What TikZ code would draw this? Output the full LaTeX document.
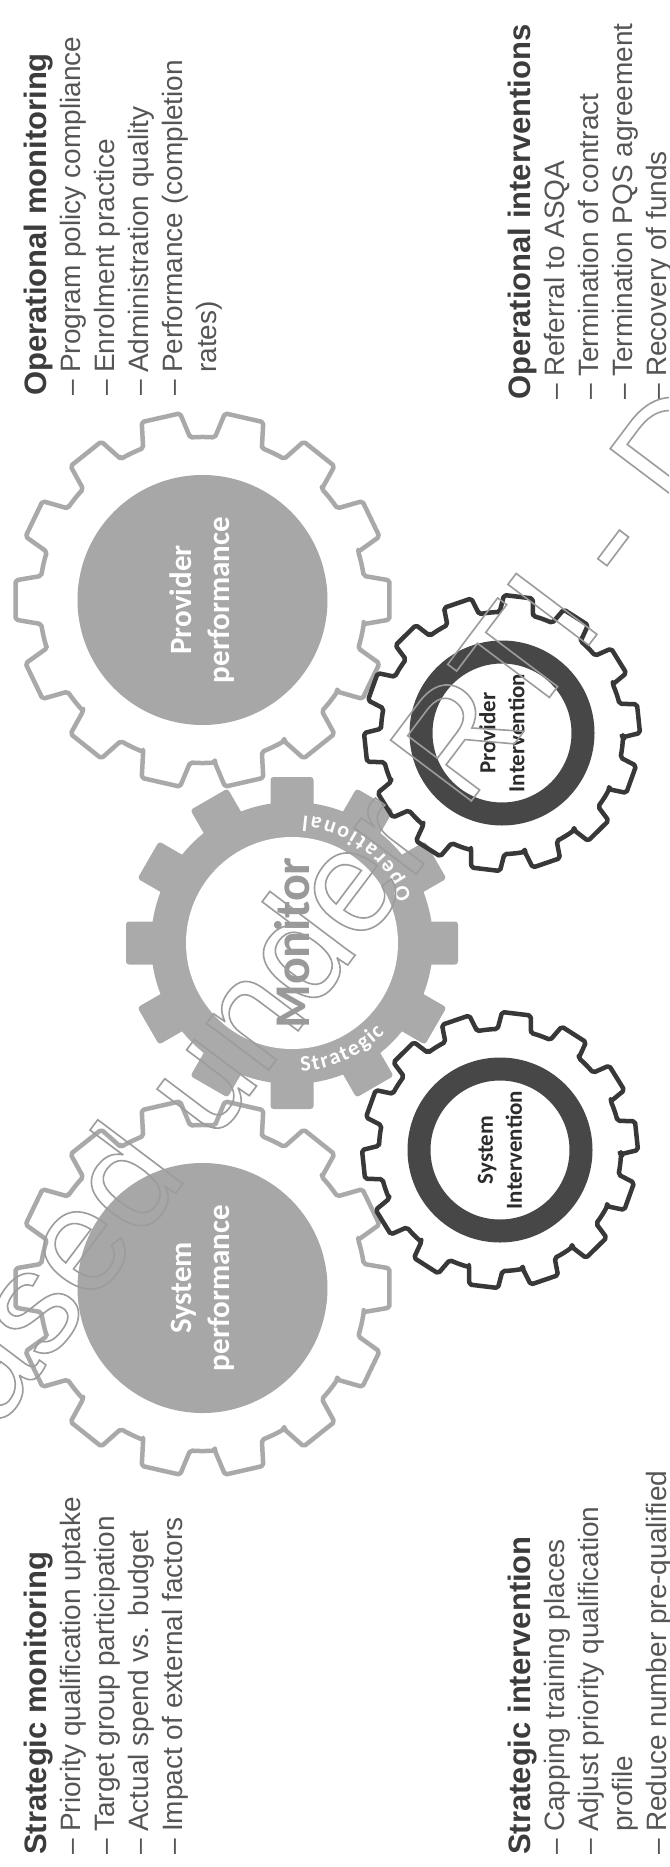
\documentclass[tikz,border=0pt]{standalone}
\usepackage{fontspec}
\setmainfont{Liberation Sans}
\newfontfamily\gearfont{Carlito}
\usetikzlibrary{decorations.text}

\definecolor{headgray}{HTML}{3C3C3C}
\definecolor{bodygray}{HTML}{555555}
\definecolor{rimlight}{HTML}{A9A9A9}
\definecolor{discgray}{HTML}{A7A7A7}
\definecolor{monitorgray}{HTML}{AAAAAA}
\definecolor{monitorword}{HTML}{999999}
\definecolor{rimdark}{HTML}{383838}
\definecolor{ringdark}{HTML}{474747}
\definecolor{labeldark}{HTML}{2B2B2B}
\definecolor{stampgray}{HTML}{9C9C9C}

% Toothed wheel outline.
% #1 draw options, #2 centre, #3 teeth, #4 root radius, #5 tip radius,
% #6 half-angle at root, #7 half-angle at tip, #8 angle of first tooth
\newcommand{\cog}[8]{%
  \pgfmathsetmacro{\cogpitch}{360/#3}%
  \pgfmathtruncatemacro{\coglast}{#3-1}%
  \draw[#1, shift={(#2)}] (#8-#6:#4pt)
    \foreach \k [evaluate=\k as \t using #8+\k*\cogpitch] in {0,...,\coglast}{
      -- (\t-#6:#4pt) -- (\t-#7:#5pt) -- (\t+#7:#5pt) -- (\t+#6:#4pt)
      arc[start angle=\t+#6, end angle=\t+\cogpitch-#6, radius=#4pt]
    } -- cycle;
}

% list helpers
\newcommand{\dashitem}[1]{\makebox[23pt][l]{\textendash}#1}
\newcommand{\contline}[1]{\hspace*{23pt}#1}
\newcommand{\listhead}[1]{{\color{headgray}\fontsize{31}{34}\selectfont\bfseries #1}}

\tikzset{
  listblock/.style={rotate=90, anchor=base west, inner sep=0pt, text=bodygray,
    font=\fontsize{28}{34}\selectfont},
  lightcog/.style={rimlight, line width=4.5pt, line join=round, rounded corners=2pt},
  darkcog/.style={rimdark, line width=4.5pt, line join=round, rounded corners=2pt},
  perflabel/.style={rotate=90, align=center, text=white, inner sep=0pt,
    font=\gearfont\bfseries\fontsize{31}{38}\selectfont},
  intlabel/.style={rotate=90, align=center, text=labeldark, inner sep=0pt,
    font=\gearfont\bfseries\fontsize{23}{29}\selectfont},
  arclabel/.style={decorate, decoration={text along path, text align=fit to path,
    text={|\gearfont\bfseries\fontsize{22}{22}\selectfont\color{white}|#1}}}
}

\begin{document}
\begin{tikzpicture}[x=1pt, y=1pt]
  \useasboundingbox (0,0) rectangle (669,-1867);
  \fill[white] (0,0) rectangle (669,-1867);

  % gear centres
  \coordinate (pp) at (202.5,-600);
  \coordinate (sp) at (202.5,-1288);
  \coordinate (monc) at (292,-943);
  \coordinate (pi) at (502,-733);
  \coordinate (si) at (500,-1150);

  % central monitor wheel
  \begin{scope}[shift={(monc)}]
    \fill[monitorgray] (0,0) circle[radius=141pt];
    \foreach \a in {0,30,...,330}
      \fill[monitorgray, rotate=\a, rounded corners=3pt] (126pt,-21.5pt) rectangle (166pt,21.5pt);
    \fill[white] (0,0) circle[radius=106pt];
  \end{scope}
  \node[rotate=90, text=monitorword, inner sep=0pt,
        font=\gearfont\bfseries\fontsize{50}{50}\selectfont] (monword) at (monc) {Monitor};
  \path[arclabel=Strategic] ([shift={(monc)}]-86:129pt) arc[start angle=-86, end angle=-44, radius=129pt];
  \path[arclabel=Operational] ([shift={(monc)}]21:128pt) arc[start angle=21, end angle=85, radius=128pt];

  % performance wheels
  \cog{lightcog}{pp}{14}{163}{188}{8.5}{6}{0}
  \fill[discgray] (pp) circle[radius=125pt];
  \node[perflabel] (pplabel) at (pp) {Provider\\performance};

  \cog{lightcog}{sp}{14}{163}{188}{8.5}{6}{0}
  \fill[discgray] (sp) circle[radius=125pt];
  \node[perflabel] (splabel) at (sp) {System\\performance};

  % intervention wheels
  \cog{darkcog}{pi}{14}{121}{138}{8}{6}{6}
  \draw[ringdark, line width=23pt] (pi) circle[radius=81pt];
  \node[intlabel] (pilabel) at (pi) {Provider\\Intervention};

  \cog{darkcog}{si}{14}{121}{138}{8}{6}{6}
  \draw[ringdark, line width=23pt] (si) circle[radius=81pt];
  \node[intlabel] (silabel) at (si) {System\\Intervention};

  % text lists
  \node[listblock] (opmon) at (46,-396) {\begin{tabular}[t]{@{}l@{}}
    \listhead{Operational monitoring}\\
    \dashitem{Program policy compliance}\\
    \dashitem{Enrolment practice}\\
    \dashitem{Administration quality}\\
    \dashitem{Performance (completion}\\
    \contline{rates)}
  \end{tabular}};

  \node[listblock] (opint) at (530,-400) {\begin{tabular}[t]{@{}l@{}}
    \listhead{Operational interventions}\\
    \dashitem{Referral to ASQA}\\
    \dashitem{Termination of contract}\\
    \dashitem{Termination PQS agreement}\\
    \dashitem{Recovery of funds}
  \end{tabular}};

  \node[listblock] (stmon) at (46,-1855) {\begin{tabular}[t]{@{}l@{}}
    \listhead{Strategic monitoring}\\
    \dashitem{Priority qualification uptake}\\
    \dashitem{Target group participation}\\
    \dashitem{Actual spend vs. budget}\\
    \dashitem{Impact of external factors}
  \end{tabular}};

  \node[listblock] (stint) at (530,-1855) {\begin{tabular}[t]{@{}l@{}}
    \listhead{Strategic intervention}\\
    \dashitem{Capping training places}\\
    \dashitem{Adjust priority qualification}\\
    \contline{profile}\\
    \dashitem{Reduce number pre-qualified}
  \end{tabular}};

  % outlined release stamp across the sheet
  \begin{scope}
    \clip (0,0) rectangle (669,-1867);
    \node[rotate=53, anchor=base west, inner sep=0pt, text=stampgray,
          font=\fontsize{147}{147}\selectfont] (stamp) at (-185,-1672)
      {\special{pdf:literal direct 1 Tr 1.6 w}Released under RTI - D\special{pdf:literal direct 0 Tr}};
  \end{scope}
\end{tikzpicture}
\end{document}
